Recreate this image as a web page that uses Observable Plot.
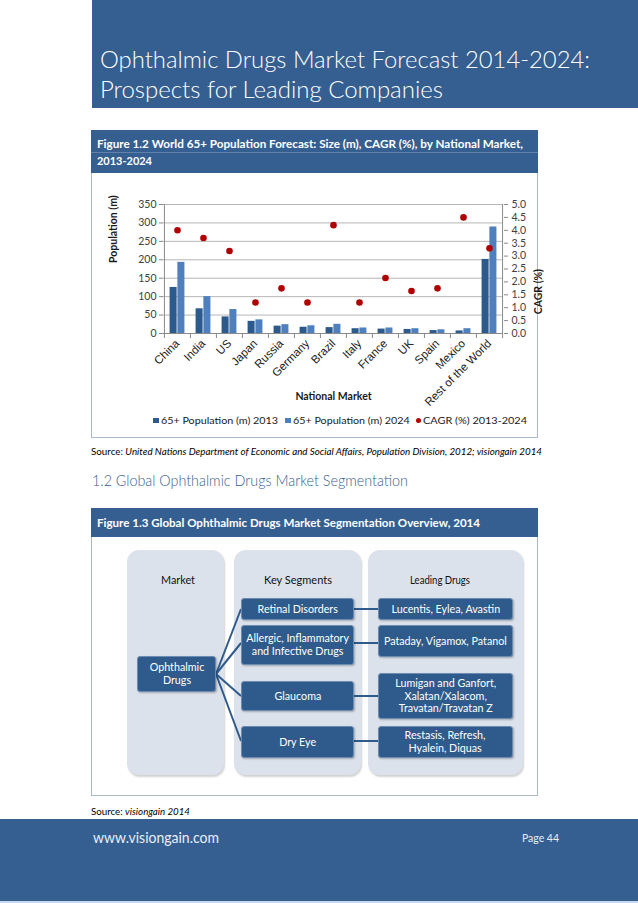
<!DOCTYPE html>
<html><head><meta charset="utf-8">
<script src="https://cdn.jsdelivr.net/npm/d3@7"></script>
<script src="https://cdn.jsdelivr.net/npm/@observablehq/plot@0.6"></script>
<style>
html,body{margin:0;padding:0;background:#fff;}
#page{position:relative;width:638px;height:903px;overflow:hidden;font-family:Lato,"Noto Sans",sans-serif;}
.abs{position:absolute;}
.t{position:absolute;white-space:nowrap;line-height:1.2;transform-origin:0 0;}
.blue{background:#365f91;}
.panel{position:absolute;background:#dbe2eb;border-radius:12px;box-shadow:1px 2px 2px rgba(0,0,0,0.18);}
.node{position:absolute;background:#2f5b8c;border:1px solid #6c8cb3;border-radius:3px;box-sizing:border-box;display:flex;align-items:center;justify-content:center;box-shadow:1px 1px 2px rgba(0,0,0,0.25);}
.node span{display:block;color:#fff;font-size:11.4px;line-height:12.8px;text-align:center;white-space:nowrap;transform:scaleX(0.94);}
#chart{position:absolute;left:91px;top:175px;}
#chart svg{overflow:visible;}
</style></head>
<body><div id="page">
  <div class="abs blue" style="left:92px;top:0;width:546px;height:108px;"></div>
  <div class="abs blue" style="left:91px;top:130px;width:447px;height:43px;"></div>
  <div class="abs" style="left:91px;top:152px;width:447px;height:1px;background:rgba(255,255,255,0.22);"></div>
  <div class="abs" style="left:91px;top:173px;width:445px;height:264px;border:1px solid #a9bacd;border-top:none;"></div>
  <div class="abs blue" style="left:91px;top:508px;width:447px;height:29px;"></div>
  <div class="abs" style="left:91px;top:537px;width:445px;height:258px;border:1px solid #a9bacd;border-top:none;"></div>
  <div class="abs blue" style="left:0;top:819px;width:638px;height:83px;"></div>
  <div class="abs" style="left:0;top:901px;width:638px;height:2px;background:#c9d8ea;"></div>
  <div id="chart"></div>
</div>
<script>
// ---------- chart data ----------
const countries = ["China","India","US","Japan","Russia","Germany","Brazil","Italy","France","UK","Spain","Mexico","Rest of the World"];
const pop2013 = [125, 67, 45, 33, 20, 17, 16, 13, 12, 11, 8, 7, 201];
const pop2024 = [193, 100, 65, 37, 24, 21, 25, 15, 15, 13, 10, 13, 289];
const cagr2013_2024 = [4.0, 3.7, 3.2, 1.2, 1.75, 1.2, 4.2, 1.2, 2.15, 1.65, 1.75, 4.5, 3.3];
const popTicks = [0, 50, 100, 150, 200, 250, 300, 350];
const cagrTicks = [0, 0.5, 1.0, 1.5, 2.0, 2.5, 3.0, 3.5, 4.0, 4.5, 5.0];
const seriesNames = ["65+ Population (m) 2013", "65+ Population (m) 2024", "CAGR (%) 2013-2024"];
const seriesColors = ["#2d5a8d", "#4f80bd", "#b00000"];
const CAGR_TO_POP = 350 / 5;

// ---------- diagram labels ----------
const columnTitles = ["Market", "Key Segments", "Leading Drugs"];
const marketLabel = ["Ophthalmic", "Drugs"];
const segmentLabels = [["Retinal Disorders"], ["Allergic, Inflammatory", "and Infective Drugs"], ["Glaucoma"], ["Dry Eye"]];
const drugLabels = [["Lucentis, Eylea, Avastin"], ["Pataday, Vigamox, Patanol"], ["Lumigan and Ganfort,", "Xalatan/Xalacom,", "Travatan/Travatan Z"], ["Restasis, Refresh,", "Hyalein, Diquas"]];

const page = document.getElementById("page");
function label(parts, o) {
  const el = document.createElement("div");
  el.className = "t";
  el.style.fontSize = o.fs + "px";
  el.style.color = o.color || "#000";
  if (o.weight) el.style.fontWeight = o.weight;
  if (o.family) el.style.fontFamily = o.family;
  (Array.isArray(parts) ? parts : [[parts, false]]).forEach(([txt, it]) => {
    const s = document.createElement("span");
    s.textContent = txt;
    if (it || o.italic) s.style.fontStyle = "italic";
    el.appendChild(s);
  });
  page.appendChild(el);
  const nat = el.getBoundingClientRect().width;
  const sx = o.w ? o.w / nat : 1;
  el.style.transform = `scaleX(${sx})`;
  const left = o.align === "center" ? o.x - nat * sx / 2 : o.x;
  el.style.left = left + "px";
  el.style.top = (o.base - 0.987 * o.fs) + "px";
  return el;
}

// page text
label("Ophthalmic Drugs Market Forecast 2014-2024:", {x:100, base:68.3, fs:23, w:490, weight:300, color:"#fff"});
label("Prospects for Leading Companies", {x:100, base:98.7, fs:23, w:343, weight:300, color:"#fff"});
label("Figure 1.2 World 65+ Population Forecast: Size (m), CAGR (%), by National Market,", {x:97, base:149.3, fs:12, w:426, weight:"bold", color:"#fff"});
label("2013-2024", {x:97, base:165.5, fs:12, w:55, weight:"bold", color:"#fff"});
label([["Source: ", false], ["United Nations Department of Economic and Social Affairs, Population Division, 2012; visiongain 2014", true]], {x:91, base:455, fs:9.5, w:451, color:"#000"});
label("1.2 Global Ophthalmic Drugs Market Segmentation", {x:92, base:486, fs:15.5, w:316, weight:300, color:"#365f91"});
label("Figure 1.3 Global Ophthalmic Drugs Market Segmentation Overview, 2014", {x:97, base:527.7, fs:12, w:383, weight:"bold", color:"#fff"});
label([["Source: ", false], ["visiongain 2014", true]], {x:91, base:815, fs:10, w:99, color:"#000"});
label("www.visiongain.com", {x:93, base:843.3, fs:15, w:126, color:"#e8eef6"});
label("Page 44", {x:522, base:843.3, fs:12, w:37, color:"#e8eef6"});

// ---------- chart ----------
const rows = countries.map((c, i) => ({country: c, p2013: pop2013[i], p2024: pop2024[i], cagr: cagr2013_2024[i]}));
const W = 460, H = 236, mL = 72, mR = 48, mT = 29, mB = 78;
const step = (W - mL - mR) / countries.length;
const barW = 7.2;
const axisColor = "#8a8a8a";
const chart = Plot.plot({
  width: W, height: H, marginLeft: mL, marginRight: mR, marginTop: mT, marginBottom: mB,
  x: {domain: countries, padding: 0},
  y: {domain: [0, 350]},
  style: {background: "transparent", fontFamily: "Lato, sans-serif", fontSize: "10px", color: "#404040", overflow: "visible"},
  marks: [
    Plot.gridY(popTicks, {stroke: "#b6b6b6", strokeOpacity: 1}),
    Plot.barY(rows, {x: "country", y: "p2013", fill: seriesColors[0], insetLeft: step / 2 - barW - 0.3, insetRight: step / 2 + 0.3}),
    Plot.barY(rows, {x: "country", y: "p2024", fill: seriesColors[1], insetLeft: step / 2 + 0.3, insetRight: step / 2 - barW - 0.3}),
    Plot.dot(rows, {x: "country", y: d => d.cagr * CAGR_TO_POP, r: 3.3, fill: seriesColors[2]}),
    Plot.ruleY([0], {stroke: axisColor}),
    Plot.ruleX([countries[0]], {dx: -step / 2, y1: 0, y2: 350, stroke: axisColor}),
    Plot.ruleX([countries[countries.length - 1]], {dx: step / 2, y1: 0, y2: 350, stroke: axisColor}),
    Plot.axisY(popTicks, {anchor: "left", tickSize: 4, tickPadding: 3, stroke: axisColor, fill: "#404040", fontSize: 10.5, label: null}),
    Plot.axisY(cagrTicks.map(t => t * CAGR_TO_POP), {anchor: "right", tickSize: 4, tickPadding: 4, tickFormat: d => (d / CAGR_TO_POP).toFixed(1), stroke: axisColor, fill: "#404040", fontSize: 10.5, label: null}),
    Plot.axisX(countries, {tickSize: 5, fill: "none", dx: -step / 2, stroke: axisColor, label: null}),
    Plot.axisX([countries[countries.length - 1]], {tickSize: 5, fill: "none", dx: step / 2, stroke: axisColor, label: null}),
    Plot.axisX(countries, {tickSize: 0, tickRotate: -45, tickPadding: 8, fontSize: 11.5, fontFamily: "Liberation Sans, Arial, sans-serif", fill: "#1a1a1a", label: null}),
    Plot.text(["Population (m)"], {frameAnchor: "left", rotate: -90, dx: -50, dy: -6, fontWeight: "bold", fontSize: 10.5, fill: "#1a1a1a"}),
    Plot.text(["CAGR (%)"], {frameAnchor: "right", rotate: -90, dx: 35, dy: 0, fontWeight: "bold", fontSize: 10.5, fill: "#1a1a1a"}),
    Plot.text(["National Market"], {frameAnchor: "bottom", dy: 66, fontWeight: "bold", fontSize: 10.5, fill: "#1a1a1a"})
  ]
});
document.getElementById("chart").appendChild(chart);

// ---------- legend (HTML, below the SVG) ----------
const legendX = [153, 285, 416];
const legendTextX = [161, 292.7, 423];
const legendW = [117, 116.7, 104];
seriesNames.forEach((name, i) => {
  const sw = document.createElement("div");
  sw.className = "abs";
  const round = i === 2;
  sw.style.cssText = `left:${legendX[i]}px;top:${round ? 418 : 417.5}px;width:${round ? 5 : 5.5}px;height:${round ? 5 : 5.5}px;background:${seriesColors[i]};border-radius:${round ? "50%" : "0"};`;
  page.appendChild(sw);
  label(name, {x: legendTextX[i], base: 424, fs: 10, w: legendW[i], color: "#1a1a1a"});
});

// ---------- diagram (HTML) ----------
const panels = [{l:127, w:97}, {l:234, w:127}, {l:368, w:155}];
panels.forEach((p) => {
  const d = document.createElement("div");
  d.className = "panel";
  d.style.cssText = `left:${p.l}px;top:550px;width:${p.w}px;height:225px;`;
  page.appendChild(d);
});
const colW = [34, 68, 60];
const colC = [178, 298, 440];
columnTitles.forEach((t, i) => label(t, {x: colC[i], base: 584.3, fs: 11.2, w: colW[i], align: "center", color: "#111"}));

// connectors
const svgNS = "http://www.w3.org/2000/svg";
const conn = document.createElementNS(svgNS, "svg");
conn.setAttribute("width", 638); conn.setAttribute("height", 903);
conn.style.cssText = "position:absolute;left:0;top:0;pointer-events:none;";
page.appendChild(conn);

function node(lines, l, t, w, h) {
  const d = document.createElement("div");
  d.className = "node";
  d.style.cssText = `left:${l}px;top:${t}px;width:${w}px;height:${h}px;`;
  const s = document.createElement("span");
  lines.forEach((x, k) => { if (k) s.appendChild(document.createElement("br")); s.appendChild(document.createTextNode(x)); });
  d.appendChild(s);
  page.appendChild(d);
}
const segTops = [598, 625, 681, 726], segHs = [22, 40, 30, 32];
const drugTops = [598, 625, 673, 726], drugHs = [22, 32, 46, 32];
const segMid = [609, 643, 696, 741];
const start = [216, 674];
segMid.forEach(y => {
  const a = document.createElementNS(svgNS, "line");
  a.setAttribute("x1", start[0]); a.setAttribute("y1", start[1]); a.setAttribute("x2", 241); a.setAttribute("y2", y);
  a.setAttribute("stroke", "#2f5b8c"); a.setAttribute("stroke-width", 2);
  conn.appendChild(a);
  const b = document.createElementNS(svgNS, "line");
  b.setAttribute("x1", 354); b.setAttribute("y1", y); b.setAttribute("x2", 378); b.setAttribute("y2", y);
  b.setAttribute("stroke", "#2f5b8c"); b.setAttribute("stroke-width", 2);
  conn.appendChild(b);
});
node(marketLabel, 137, 656, 79, 36);
segmentLabels.forEach((s, i) => node(s, 241, segTops[i], 113, segHs[i]));
drugLabels.forEach((s, i) => node(s, 378, drugTops[i], 135, drugHs[i]));
</script>
</body></html>
